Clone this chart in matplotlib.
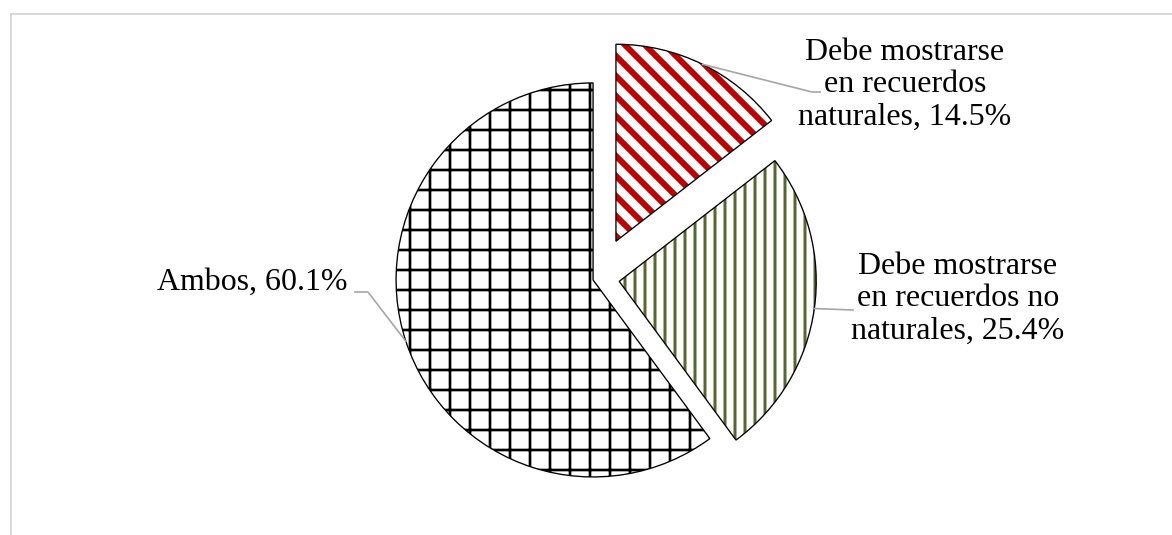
import math
import matplotlib
matplotlib.use("Agg")
import matplotlib.pyplot as plt
from matplotlib.patches import Wedge
from matplotlib.lines import Line2D

# Survey shares (clockwise from 12 o'clock)
categories = [
    "Debe mostrarse\nen recuerdos\nnaturales",
    "Debe mostrarse\nen recuerdos no\nnaturales",
    "Ambos",
]
shares = [14.5, 25.4, 60.1]
explode = [0.21, 0.11, 0.025]          # fraction of the radius
hatches = ["\\\\", "||", "+"]
hatch_colors = ["#C00000", "#56692C", "#000000"]
hatch_widths = [3.6, 1.8, 1.6]

W, H, DPI = 1172, 535, 120
R = 197
plt.rcParams["font.family"] = ["Liberation Serif", "DejaVu Serif"]

fig = plt.figure(figsize=(W / DPI, H / DPI), dpi=DPI)
ax = fig.add_axes([0, 0, 1, 1])

wedges, _ = ax.pie(shares, explode=[e * R for e in explode], startangle=90,
                   counterclock=False, center=(597.75, H - 278.4), radius=R)
ax.set_xlim(0, W)
ax.set_ylim(0, H)
ax.set_aspect("equal")
ax.axis("off")

for w, hp, hc, hw in zip(wedges, hatches, hatch_colors, hatch_widths):
    w.set_facecolor("white")
    w.set_edgecolor(hc)
    w.set_linewidth(0)
    w.set_hatch(hp)
    if hasattr(w, "set_hatch_linewidth"):
        w.set_hatch_linewidth(hw)
    # crisp black outline on top of the hatched fill
    ax.add_patch(Wedge(w.center, w.r, w.theta1, w.theta2, fill=False,
                       edgecolor="black", linewidth=0.8, zorder=w.get_zorder() + 0.1))

# label text positions (x, y from top) and the end of each leader line near the text
label_pos = [(905, 85), (958, 299), (252, 282)]
leader_end = [[(812, 92), (820, 92)], [(853, 310)], [(368, 292), (355, 292)]]

for w, cat, val, (lx, ly), ends in zip(wedges, categories, shares, label_pos, leader_end):
    ax.text(lx, H - ly, f"{cat}, {val}%", ha="center", va="center",
            multialignment="center", fontsize=19.1, linespacing=1.17, color="black")
    mid = math.radians((w.theta1 + w.theta2) / 2)
    cx, cy = w.center
    xs = [cx + w.r * math.cos(mid)] + [p[0] for p in ends]
    ys = [cy + w.r * math.sin(mid)] + [H - p[1] for p in ends]
    ax.plot(xs, ys, color="#A6A6A6", linewidth=1.0, zorder=5)

# light chart-area frame
fig.add_artist(Line2D([11 / W, 1.0], [1 - 14 / H, 1 - 14 / H],
                      transform=fig.transFigure, color="#D9D9D9", linewidth=1.2))
fig.add_artist(Line2D([11 / W, 11 / W], [0.0, 1 - 14 / H],
                      transform=fig.transFigure, color="#D9D9D9", linewidth=1.2))

fig.savefig("out.png", dpi=DPI, facecolor="white")
